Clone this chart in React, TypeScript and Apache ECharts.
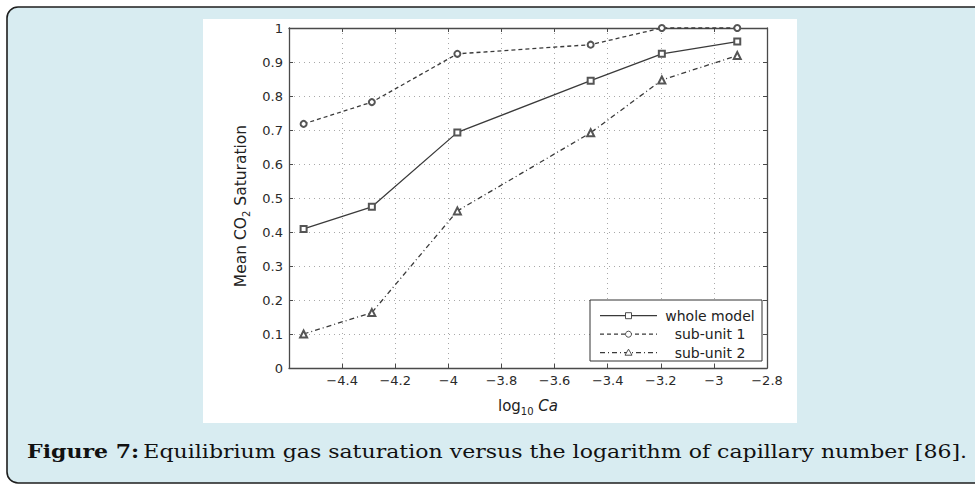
import React, { useEffect, useRef } from "react";
import * as echarts from "echarts";

const xValues = [-4.545, -4.288, -3.966, -3.464, -3.196, -2.912];
const wholeModel = [0.409, 0.474, 0.693, 0.845, 0.924, 0.96];
const subUnit1 = [0.718, 0.782, 0.924, 0.951, 1.0, 1.0];
const subUnit2 = [0.1, 0.163, 0.462, 0.692, 0.847, 0.919];
const seriesNames = ["whole model", "sub-unit 1", "sub-unit 2"];
const caption = "Equilibrium gas saturation versus the logarithm of capillary number [86].";

const LINE = "#3a3a3a";
const AX = "#4a4a4a";
const FONT = "DejaVu Sans";

function fmtX(v: number) {
  if (Math.abs(v + 4.6) < 1e-6) return "";
  const s = String(Number(v.toFixed(1)));
  return s.replace("-", "\u2212");
}
function fmtY(v: number) {
  return String(Number(v.toFixed(1)));
}

export default function App() {
  const ref = useRef<HTMLDivElement>(null);
  useEffect(() => {
    document.body.style.margin = "0";
    const chart = echarts.init(ref.current!, null, { renderer: "svg" });
    const pair = (ys: number[]) => xValues.map((x, i) => [x, ys[i]]);

    const legX0 = 600, legX1 = 657, legMid = 628.5, legText = 710;
    const legY = [315.7, 334.2, 352.7];

    const option: any = {
      animation: false,
      textStyle: { fontFamily: FONT },
      graphic: {
        elements: [
          {
            type: "rect", z: -20, silent: true,
            shape: { x: 7, y: 7, width: 1000, height: 476, r: 11 },
            style: { fill: "#d8ecf1", stroke: "#1e1e1e", lineWidth: 1.6 },
          },
          {
            type: "rect", z: -19, silent: true,
            shape: { x: 203, y: 19, width: 594, height: 404 },
            style: { fill: "#ffffff" },
          },
          {
            type: "text", z: 5, x: 27, y: 452, scaleX: 1.225, scaleY: 1,
            style: {
              text: "{b|Figure 7:} {n|" + caption + "}",
              verticalAlign: "middle",
              rich: {
                b: { fontFamily: "DejaVu Serif", fontWeight: "bold", fontSize: 18, fill: "#111" },
                n: { fontFamily: "DejaVu Serif", fontSize: 18, fill: "#111" },
              },
            },
          },
          // legend box
          {
            type: "rect", z: 50,
            shape: { x: 590, y: 300, width: 172, height: 61 },
            style: { fill: "#ffffff", stroke: "#333", lineWidth: 1 },
          },
          { type: "line", z: 51, shape: { x1: legX0, y1: legY[0], x2: legX1, y2: legY[0] }, style: { stroke: LINE, lineWidth: 1.2 } },
          { type: "rect", z: 52, shape: { x: legMid - 3, y: legY[0] - 3, width: 6, height: 6 }, style: { fill: "#fff", stroke: LINE, lineWidth: 0.9 } },
          { type: "line", z: 51, shape: { x1: legX0, y1: legY[1], x2: legX1, y2: legY[1] }, style: { stroke: LINE, lineWidth: 1.2, lineDash: [4, 3] } },
          { type: "circle", z: 52, shape: { cx: legMid, cy: legY[1], r: 3 }, style: { fill: "#fff", stroke: LINE, lineWidth: 0.9 } },
          { type: "line", z: 51, shape: { x1: legX0, y1: legY[2], x2: legX1, y2: legY[2] }, style: { stroke: LINE, lineWidth: 1.2, lineDash: [5, 3, 1, 3] } },
          { type: "polygon", z: 52, shape: { points: [[legMid, legY[2] - 3.5], [legMid + 3.5, legY[2] + 2.5], [legMid - 3.5, legY[2] + 2.5]] }, style: { fill: "#fff", stroke: LINE, lineWidth: 0.9 } },
          ...seriesNames.map((n, i) => ({
            type: "text", z: 52, x: legText, y: legY[i],
            style: { text: n, fontFamily: FONT, fontSize: 14, fill: "#222", align: "center", verticalAlign: "middle" },
          })),
        ],
      },
      grid: { left: 289, top: 28, width: 478, height: 340, containLabel: false },
      xAxis: [
        {
          type: "value", min: -4.6, max: -2.8, interval: 0.2, position: "bottom",
          axisLine: { show: true, onZero: false, lineStyle: { color: AX, width: 1.3 } },
          axisTick: { show: true, inside: true, length: 4, lineStyle: { color: AX, width: 1 } },
          axisLabel: { formatter: fmtX, color: "#2a2a2a", fontSize: 13, margin: 6, fontFamily: FONT },
          splitLine: { show: true, lineStyle: { color: "#a8a8a8", width: 1, type: [1, 4] } },
          name: "{a|log}{s|10}{a| }{i|Ca}",
          nameLocation: "middle", nameGap: 27,
          nameTextStyle: {
            rich: {
              a: { fontSize: 15, fontFamily: FONT, color: "#222" },
              s: { fontSize: 10, fontFamily: FONT, color: "#222", verticalAlign: "bottom", lineHeight: 21 },
              i: { fontSize: 15, fontFamily: FONT, fontStyle: "italic", color: "#222" },
            },
          },
        },
        {
          type: "value", min: -4.6, max: -2.8, interval: 0.2, position: "top",
          axisLine: { show: true, onZero: false, lineStyle: { color: AX, width: 1.3 } },
          axisTick: { show: true, inside: true, length: 4, lineStyle: { color: AX, width: 1 } },
          axisLabel: { show: false },
          splitLine: { show: false },
        },
      ],
      yAxis: [
        {
          type: "value", min: 0, max: 1, interval: 0.1, position: "left",
          axisLine: { show: true, onZero: false, lineStyle: { color: AX, width: 1.3 } },
          axisTick: { show: true, inside: true, length: 4, lineStyle: { color: AX, width: 1 } },
          axisLabel: { formatter: fmtY, color: "#2a2a2a", fontSize: 13, margin: 6, fontFamily: FONT },
          splitLine: { show: true, lineStyle: { color: "#a8a8a8", width: 1, type: [1, 4] } },
          name: "{a|Mean CO}{s|2}{a| Saturation}",
          nameLocation: "middle", nameGap: 38, nameRotate: 90,
          nameTextStyle: {
            padding: [0, 16, 0, 0],
            rich: {
              a: { fontSize: 15.5, fontFamily: FONT, color: "#222" },
              s: { fontSize: 10, fontFamily: FONT, color: "#222", verticalAlign: "bottom", lineHeight: 21 },
            },
          },
        },
        {
          type: "value", min: 0, max: 1, interval: 0.1, position: "right",
          axisLine: { show: true, onZero: false, lineStyle: { color: AX, width: 1.3 } },
          axisTick: { show: true, inside: true, length: 4, lineStyle: { color: AX, width: 1 } },
          axisLabel: { show: false },
          splitLine: { show: false },
        },
      ],
      series: [
        {
          name: seriesNames[0], type: "line", data: pair(wholeModel), clip: false,
          symbol: "emptyRect", symbolSize: 6,
          lineStyle: { color: LINE, width: 1.3, type: "solid" },
          itemStyle: { color: "#555", borderWidth: 0.9 },
        },
        {
          name: seriesNames[1], type: "line", data: pair(subUnit1), clip: false,
          symbol: "emptyCircle", symbolSize: 6,
          lineStyle: { color: LINE, width: 1.3, type: [4, 3] },
          itemStyle: { color: "#555", borderWidth: 0.9 },
        },
        {
          name: seriesNames[2], type: "line", data: pair(subUnit2), clip: false,
          symbol: "emptyTriangle", symbolSize: 7,
          lineStyle: { color: LINE, width: 1.3, type: [5, 3, 1, 3] },
          itemStyle: { color: "#555", borderWidth: 0.9 },
        },
      ],
    };
    chart.setOption(option);
    return () => chart.dispose();
  }, []);
  return <div ref={ref} style={{ width: 975, height: 484, position: "absolute", left: 0, top: 0 }} />;
}
